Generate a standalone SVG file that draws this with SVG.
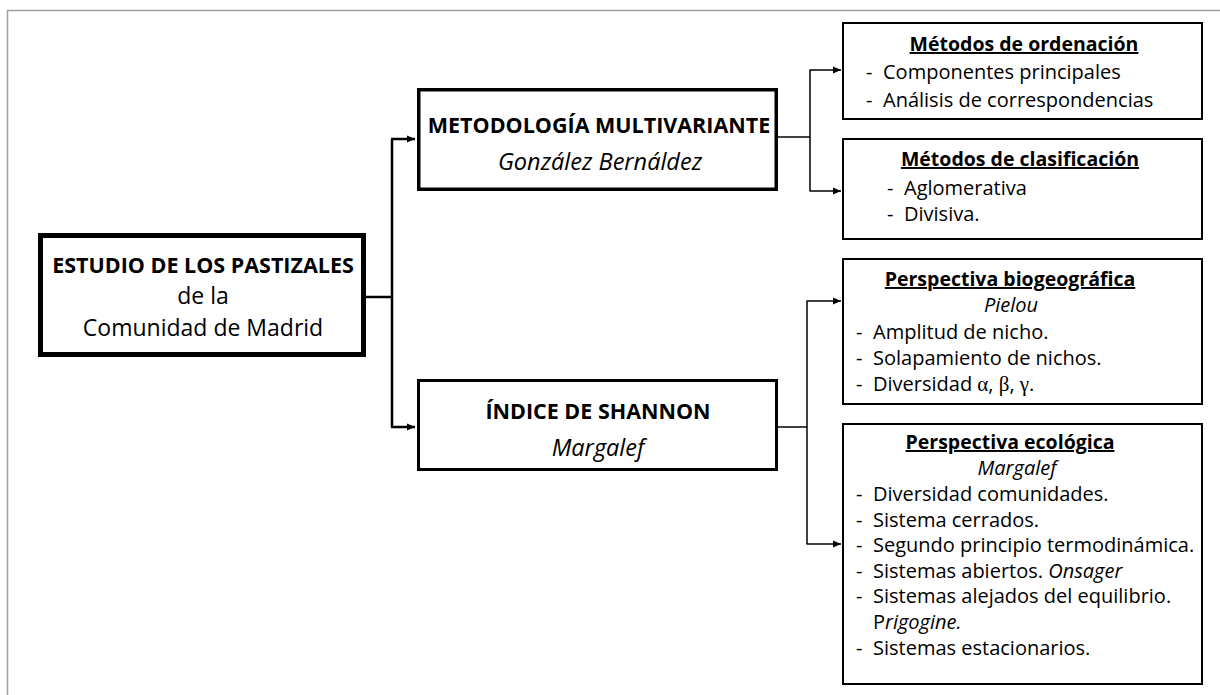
<svg xmlns="http://www.w3.org/2000/svg" width="1220" height="695" viewBox="0 0 1220 695">
<defs>
<style>
text{font-family:"Open Sans","Liberation Sans",sans-serif;fill:#000}
.box{fill:#fff;stroke:#000}
.b{font-weight:bold}
.i{font-style:italic}
.m{text-anchor:middle}
.r{font-size:20px}
.t{font-size:19.5px;font-weight:bold;text-decoration:underline;text-anchor:middle}
.g{font-family:"Liberation Serif",serif;font-size:21px}
.c1{fill:none;stroke:#000;stroke-width:2.5}
.c2{fill:none;stroke:#000;stroke-width:1.5}
</style>
<marker id="ah" markerUnits="userSpaceOnUse" markerWidth="9" markerHeight="8" refX="8" refY="4" orient="auto">
<path d="M0,0.5 L8,4 L0,7.5 z" fill="#000"/>
</marker>
</defs>
<rect x="0" y="0" width="1220" height="695" fill="#fff"/>
<path d="M7.5,695 V10.5 H1220" fill="none" stroke="#a0a0a0" stroke-width="1.5"/>

<g id="connectors">
<path class="c1" d="M366,297 H392"/>
<path class="c1" d="M392,139 V427"/>
<path class="c1" d="M391,139 H415" marker-end="url(#ah)"/>
<path class="c1" d="M391,427 H415" marker-end="url(#ah)"/>
<path class="c2" d="M778,137 H810"/>
<path class="c2" d="M810,70 V191"/>
<path class="c2" d="M809.5,70 H841" marker-end="url(#ah)"/>
<path class="c2" d="M809.5,191 H841" marker-end="url(#ah)"/>
<path class="c2" d="M778,427 H807"/>
<path class="c2" d="M807,301 V544"/>
<path class="c2" d="M806.5,301 H841" marker-end="url(#ah)"/>
<path class="c2" d="M806.5,544 H841" marker-end="url(#ah)"/>
</g>

<g id="root">
<rect class="box" x="40.5" y="235.5" width="323" height="119" stroke-width="5"/>
<text class="b m" x="203" y="273" font-size="21.5">ESTUDIO DE LOS PASTIZALES</text>
<text class="m" x="203" y="304" font-size="23">de la</text>
<text class="m" x="203" y="336" font-size="23">Comunidad de Madrid</text>
</g>

<g id="metodologia">
<rect class="box" x="418.75" y="89.75" width="357.5" height="99.5" stroke-width="3.5"/>
<text class="b m" x="599" y="133" font-size="21.5">METODOLOGÍA MULTIVARIANTE</text>
<text class="i m" x="600" y="170" font-size="23.5">González Bernáldez</text>
</g>

<g id="indice">
<rect class="box" x="418.5" y="380.5" width="358" height="89" stroke-width="3"/>
<text class="b m" x="598" y="419" font-size="21.5">ÍNDICE DE SHANNON</text>
<text class="i m" x="598" y="456" font-size="23.5">Margalef</text>
</g>

<g id="ordenacion">
<rect class="box" x="843" y="23" width="359" height="96" stroke-width="2"/>
<text class="t" x="1024" y="51">Métodos de ordenación</text>
<text class="r" x="866" y="79">-</text>
<text class="r" x="883" y="79">Componentes principales</text>
<text class="r" x="866" y="107">-</text>
<text class="r" x="883" y="107">Análisis de correspondencias</text>
</g>

<g id="clasificacion">
<rect class="box" x="843" y="139" width="359" height="100" stroke-width="2"/>
<text class="t" x="1020" y="166">Métodos de clasificación</text>
<text class="r" x="887" y="195">-</text>
<text class="r" x="904" y="195">Aglomerativa</text>
<text class="r" x="887" y="221">-</text>
<text class="r" x="904" y="221">Divisiva.</text>
</g>

<g id="biogeografica">
<rect class="box" x="843" y="259" width="359" height="145" stroke-width="2"/>
<text class="t" x="1010" y="286">Perspectiva biogeográfica</text>
<text class="r i m" x="1011" y="312">Pielou</text>
<text class="r" x="856" y="339">-</text>
<text class="r" x="873" y="339">Amplitud de nicho.</text>
<text class="r" x="856" y="365">-</text>
<text class="r" x="873" y="365">Solapamiento de nichos.</text>
<text class="r" x="856" y="391">-</text>
<text class="r" x="873" y="391">Diversidad <tspan class="g">α</tspan>, <tspan class="g">β</tspan>, <tspan class="g">γ</tspan>.</text>
</g>

<g id="ecologica">
<rect class="box" x="843" y="424" width="359" height="260" stroke-width="2"/>
<text class="t" x="1010" y="449">Perspectiva ecológica</text>
<text class="r i m" x="1017" y="475">Margalef</text>
<text class="r" x="856" y="501">-</text>
<text class="r" x="873" y="501">Diversidad comunidades.</text>
<text class="r" x="856" y="526.6">-</text>
<text class="r" x="873" y="526.6">Sistema cerrados.</text>
<text class="r" x="856" y="552.2">-</text>
<text class="r" x="873" y="552.2">Segundo principio termodinámica.</text>
<text class="r" x="856" y="577.8">-</text>
<text class="r" x="873" y="577.8">Sistemas abiertos. <tspan class="i">Onsager</tspan></text>
<text class="r" x="856" y="603.4">-</text>
<text class="r" x="873" y="603.4">Sistemas alejados del equilibrio.</text>
<text class="r" x="873" y="629">P<tspan class="i">rigogine.</tspan></text>
<text class="r" x="856" y="654.6">-</text>
<text class="r" x="873" y="654.6">Sistemas estacionarios.</text>
</g>
</svg>
